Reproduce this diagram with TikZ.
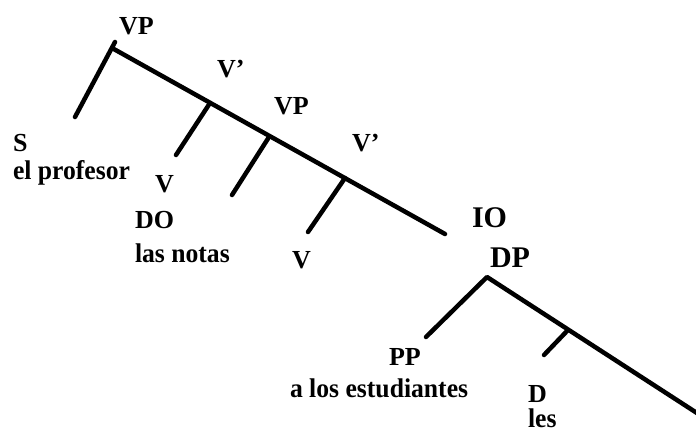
\documentclass[tikz,border=0pt]{standalone}
\usepackage{fontspec}
\setmainfont{Liberation Serif}
\newfontfamily\condfont[FakeStretch=0.95]{Liberation Serif}
\begin{document}
\begin{tikzpicture}[x=1pt,y=-1pt,
  branch/.style={line width=4.5pt,line cap=round,line join=round},
  lbl/.style={anchor=base west,inner sep=0pt,outer sep=0pt,font=\fontsize{26}{30}\selectfont\bfseries},
  wordlbl/.style={lbl,font=\fontsize{27}{32}\condfont\bfseries},
  biglbl/.style={lbl,font=\fontsize{30}{34}\selectfont\bfseries}]
\useasboundingbox (0,0) rectangle (696,433);
% tree 1
\coordinate (vpTop) at (115,42);
\coordinate (vp1) at (112,48);
\coordinate (sEnd) at (75,117);
\coordinate (vb1) at (210,103);
\coordinate (vEnd1) at (176,155);
\coordinate (vp2) at (269,137);
\coordinate (doEnd) at (232,195);
\coordinate (vb2) at (345,178);
\coordinate (vEnd2) at (308,232);
\coordinate (ioEnd) at (445,234);
% tree 2
\coordinate (dp) at (487,277);
\coordinate (ppEnd) at (426,337);
\coordinate (dJoin) at (567,331);
\coordinate (dEnd) at (544,355);
\coordinate (dpEnd) at (700,415);

\draw[branch] (sEnd) -- (vpTop);
\draw[branch] (vp1) -- (ioEnd);
\draw[branch] (vb1) -- (vEnd1);
\draw[branch] (vp2) -- (doEnd);
\draw[branch] (vb2) -- (vEnd2);
\draw[branch] (ppEnd) -- (dp) -- (dpEnd);
\draw[branch] (dJoin) -- (dEnd);

\node[lbl] (lVP1) at (119,35) {VP};
\node[lbl] (lV1) at (217,78) {V'};
\node[lbl] (lVP2) at (274,115) {VP};
\node[lbl] (lV2) at (352,152) {V'};
\node[lbl] (lS) at (13,152) {S};
\node[wordlbl] (lprof) at (13,179) {el profesor};
\node[lbl] (lVa) at (155,192) {V};
\node[lbl] (lDO) at (135,228) {DO};
\node[wordlbl] (lnotas) at (135,262) {las notas};
\node[lbl] (lVb) at (292,268) {V};
\node[biglbl] (lIO) at (472,227) {IO};
\node[biglbl] (lDP) at (490,267) {DP};
\node[lbl] (lPP) at (389,365) {PP};
\node[wordlbl] (lest) at (290,397) {a los estudiantes};
\node[lbl] (lD) at (528,402) {D};
\node[wordlbl] (lles) at (528,427) {les};
\end{tikzpicture}
\end{document}
